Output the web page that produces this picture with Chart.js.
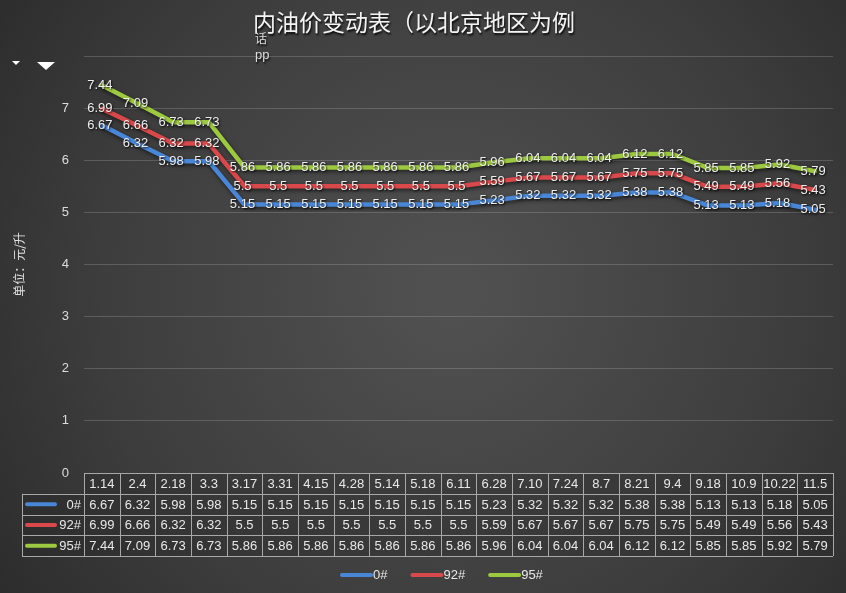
<!DOCTYPE html>
<html>
<head>
<meta charset="utf-8">
<script src="https://cdn.jsdelivr.net/npm/chart.js@4/dist/chart.umd.min.js"></script>
<style>
  html, body { margin: 0; padding: 0; background: #333; }
  #wrap { width: 846px; height: 593px; }
</style>
</head>
<body>
<div id="wrap"><canvas id="myChart" width="846" height="593"></canvas></div>
<script>
// dates of price changes
const labels = ["1.14","2.4","2.18","3.3","3.17","3.31","4.15","4.28","5.14","5.18","6.11",
  "6.28","7.10","7.24","8.7","8.21","9.4","9.18","10.9","10.22","11.5"];

const diesel0 = [6.67,6.32,5.98,5.98,5.15,5.15,5.15,5.15,5.15,5.15,5.15,
  5.23,5.32,5.32,5.32,5.38,5.38,5.13,5.13,5.18,5.05];
const gas92 = [6.99,6.66,6.32,6.32,5.5,5.5,5.5,5.5,5.5,5.5,5.5,
  5.59,5.67,5.67,5.67,5.75,5.75,5.49,5.49,5.56,5.43];
const gas95 = [7.44,7.09,6.73,6.73,5.86,5.86,5.86,5.86,5.86,5.86,5.86,
  5.96,6.04,6.04,6.04,6.12,6.12,5.85,5.85,5.92,5.79];

const seriesNames = ["0#", "92#", "95#"];
const colors = ["#4a86d6", "#d9494b", "#9dc940"];

const titleText = "内油价变动表（以北京地区为例";
const yTitle = "单位：元/升";

const txtFont = '13px "Liberation Sans", "DejaVu Sans", sans-serif';

// background with soft light in the middle
const bgPlugin = {
  id: "bg",
  beforeDraw(chart) {
    const ctx = chart.ctx;
    const w = chart.width, h = chart.height;
    ctx.save();
    const g = ctx.createRadialGradient(450, 290, 30, 450, 290, 560);
    g.addColorStop(0, "#505050");
    g.addColorStop(0.6, "#3d3d3d");
    g.addColorStop(1, "#2b2b2b");
    ctx.fillStyle = g;
    ctx.fillRect(0, 0, w, h);

    // title
    ctx.font = '23px "Noto Sans CJK SC", sans-serif';
    ctx.textBaseline = "middle";
    ctx.textAlign = "left";
    ctx.shadowColor = "rgba(0,0,0,0.85)";
    ctx.shadowOffsetX = 1;
    ctx.shadowOffsetY = 2;
    ctx.shadowBlur = 2;
    ctx.fillStyle = "#f4f4f4";
    ctx.fillText(titleText, 253, 22);
    ctx.font = '12px "Noto Sans CJK SC", sans-serif';
    ctx.fillStyle = "#dddddd";
    ctx.fillText("话", 255, 38);
    ctx.font = '13px "Liberation Sans", sans-serif';
    ctx.fillText("pp", 255, 55);
    ctx.shadowColor = "transparent";

    // little white marks top left
    ctx.fillStyle = "#ffffff";
    ctx.beginPath();
    ctx.moveTo(12, 61); ctx.lineTo(20, 61); ctx.lineTo(16, 65); ctx.closePath(); ctx.fill();
    ctx.beginPath();
    ctx.moveTo(37, 62); ctx.lineTo(55, 62); ctx.lineTo(46, 70); ctx.closePath(); ctx.fill();
    ctx.restore();
  },
  beforeDatasetDraw(chart) {
    const ctx = chart.ctx;
    ctx.save();
    ctx.shadowColor = "rgba(0,0,0,0.55)";
    ctx.shadowBlur = 4;
    ctx.shadowOffsetX = 1;
    ctx.shadowOffsetY = 2;
  },
  afterDatasetDraw(chart) {
    chart.ctx.restore();
  }
};

// value labels, data table and legend
const tablePlugin = {
  id: "table",
  afterDraw(chart) {
    const ctx = chart.ctx;
    const area = chart.chartArea;
    const xs = chart.scales.x;
    ctx.save();

    // point labels
    ctx.font = txtFont;
    ctx.textAlign = "center";
    ctx.textBaseline = "middle";
    chart.data.datasets.forEach((ds, di) => {
      const meta = chart.getDatasetMeta(di);
      meta.data.forEach((pt, i) => {
        ctx.shadowColor = "rgba(0,0,0,0.9)";
        ctx.shadowBlur = 2;
        ctx.shadowOffsetX = 1;
        ctx.shadowOffsetY = 1;
        ctx.fillStyle = "#eeeeee";
        ctx.fillText(String(ds.data[i]), pt.x - 2, pt.y);
      });
    });
    ctx.shadowColor = "transparent";

    // data table
    const n = labels.length;
    const colW = (area.right - area.left) / n;
    const rowH = 20.75;
    const top = area.bottom;
    const keyLeft = 22;

    ctx.fillStyle = "rgba(40,40,40,0.35)";
    ctx.fillRect(area.left, top, area.right - area.left, rowH * 4);
    ctx.fillRect(keyLeft, top + rowH, area.left - keyLeft, rowH * 3);

    ctx.strokeStyle = "#a8a8a8";
    ctx.lineWidth = 1;
    ctx.beginPath();
    for (let r = 0; r <= 4; r++) {
      const y = Math.round(top + r * rowH) + 0.5;
      ctx.moveTo(r === 0 ? area.left : keyLeft, y);
      ctx.lineTo(area.right, y);
    }
    for (let c = 0; c <= n; c++) {
      const x = Math.round(area.left + c * colW) + 0.5;
      ctx.moveTo(x, top);
      ctx.lineTo(x, top + rowH * 4);
    }
    ctx.moveTo(keyLeft + 0.5, top + rowH);
    ctx.lineTo(keyLeft + 0.5, top + rowH * 4);
    ctx.stroke();

    ctx.font = txtFont;
    ctx.fillStyle = "#e8e8e8";
    ctx.textAlign = "center";
    labels.forEach((lb, i) => {
      const cx = xs.getPixelForValue(i);
      ctx.fillText(lb, cx, top + rowH * 0.5 + 1);
    });
    chart.data.datasets.forEach((ds, di) => {
      const cy = top + rowH * (di + 1.5) + 1;
      ds.data.forEach((v, i) => {
        ctx.fillStyle = "#e8e8e8";
        ctx.textAlign = "center";
        ctx.fillText(String(v), xs.getPixelForValue(i), cy);
      });
      // key
      ctx.strokeStyle = colors[di];
      ctx.lineWidth = 4;
      ctx.lineCap = "round";
      ctx.beginPath();
      ctx.moveTo(keyLeft + 5, cy - 1);
      ctx.lineTo(keyLeft + 33, cy - 1);
      ctx.stroke();
      ctx.fillStyle = "#e8e8e8";
      ctx.textAlign = "right";
      ctx.fillText(seriesNames[di], area.left - 3, cy);
    });

    // bottom legend
    const legendY = 575;
    let lx = 342;
    ctx.textAlign = "left";
    seriesNames.forEach((nm, di) => {
      ctx.strokeStyle = colors[di];
      ctx.lineWidth = 4;
      ctx.beginPath();
      ctx.moveTo(lx, legendY);
      ctx.lineTo(lx + 29, legendY);
      ctx.stroke();
      ctx.fillStyle = "#e8e8e8";
      ctx.fillText(nm, lx + 31, legendY);
      lx += 31 + ctx.measureText(nm).width + 25;
    });
    ctx.restore();
  }
};

const data = {
  labels: labels,
  datasets: [
    { label: seriesNames[0], data: diesel0, borderColor: colors[0] },
    { label: seriesNames[1], data: gas92, borderColor: colors[1] },
    { label: seriesNames[2], data: gas95, borderColor: colors[2] },
  ].map(d => Object.assign(d, {
    borderWidth: 4.5,
    pointRadius: 0,
    tension: 0,
    borderJoinStyle: "round",
    borderCapStyle: "round",
    fill: false,
  })),
};

const config = {
  type: "line",
  data: data,
  options: {
    responsive: false,
    animation: false,
    layout: { padding: { left: 10, right: 13, top: 56, bottom: 120 } },
    plugins: {
      legend: { display: false },
      title: { display: false },
      tooltip: { enabled: false },
    },
    scales: {
      x: { display: false, offset: true },
      y: {
        min: 0,
        max: 8,
        ticks: {
          stepSize: 1,
          padding: 15,
          color: "#dcdcdc",
          font: { size: 13, family: '"Liberation Sans", sans-serif' },
          callback: v => (v === 8 ? "" : v),
        },
        grid: { color: "rgba(200,200,200,0.24)", drawTicks: false },
        border: { display: false },
        title: {
          display: true,
          text: yTitle,
          color: "#e0e0e0",
          font: { size: 12, family: '"Noto Sans CJK SC", sans-serif' },
          padding: { top: 2, bottom: 2 },
        },
        afterFit(scale) { scale.width = 74; },
      },
    },
  },
  plugins: [bgPlugin, tablePlugin],
};

var myChart = new Chart(document.getElementById("myChart"), config);
</script>
</body>
</html>
